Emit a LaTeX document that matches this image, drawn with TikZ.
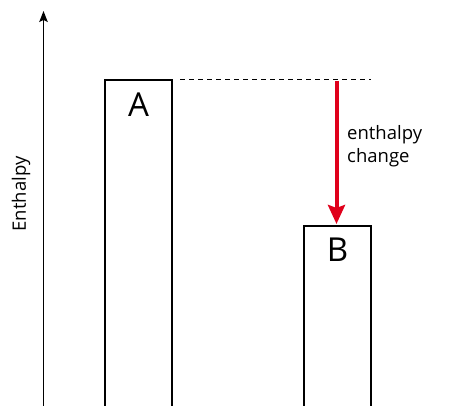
\documentclass[tikz,border=0pt]{standalone}
\usepackage{fontspec}
\setmainfont{Open Sans}
\usetikzlibrary{arrows.meta}
\definecolor{arrowred}{RGB}{224,0,27}
\begin{document}
\begin{tikzpicture}[x=1pt,y=-1pt,
  bar/.style={line width=2pt,draw=black},
  axis/.style={line width=1.3pt,-{Stealth[length=11pt,width=8.5pt,inset=2pt]}},
  level/.style={line width=1pt,dash pattern=on 5pt off 4pt},
  change/.style={line width=4pt,draw=arrowred,-{Stealth[length=19pt,width=17pt,inset=3pt]}},
  big/.style={font=\fontsize{33}{33}\selectfont,inner sep=0pt,anchor=base},
  small/.style={font=\fontsize{18.5}{23}\selectfont,inner sep=0pt,align=left}]
\useasboundingbox (0,0) rectangle (453,406);
% axis
\coordinate (ax0) at (43.5,406);
\coordinate (ax1) at (43.5,11);
\draw[axis] (ax0) -- (ax1);
\node[small,rotate=90] (ylab) at (21,194) {Enthalpy};
% box A
\coordinate (a1) at (105,407);
\coordinate (a2) at (105,80);
\coordinate (a3) at (172,80);
\coordinate (a4) at (172,407);
\draw[bar] (a1) -- (a2) -- (a3) -- (a4);
\node[big] (A) at (138.5,116.7) {A};
% box B
\coordinate (b1) at (304,407);
\coordinate (b2) at (304,226);
\coordinate (b3) at (371,226);
\coordinate (b4) at (371,407);
\draw[bar] (b1) -- (b2) -- (b3) -- (b4);
\node[big] (B) at (337.5,261.7) {B};
% dashed level
\coordinate (d0) at (180,80);
\coordinate (d1) at (371,80);
\draw[level] (d0) -- (d1);
% arrow
\coordinate (s) at (336.5,81);
\coordinate (t) at (336.5,224);
\draw[change] (s) -- (t);
\node[small,anchor=north west] (lab) at (347,125) {enthalpy\\change};
\end{tikzpicture}
\end{document}
